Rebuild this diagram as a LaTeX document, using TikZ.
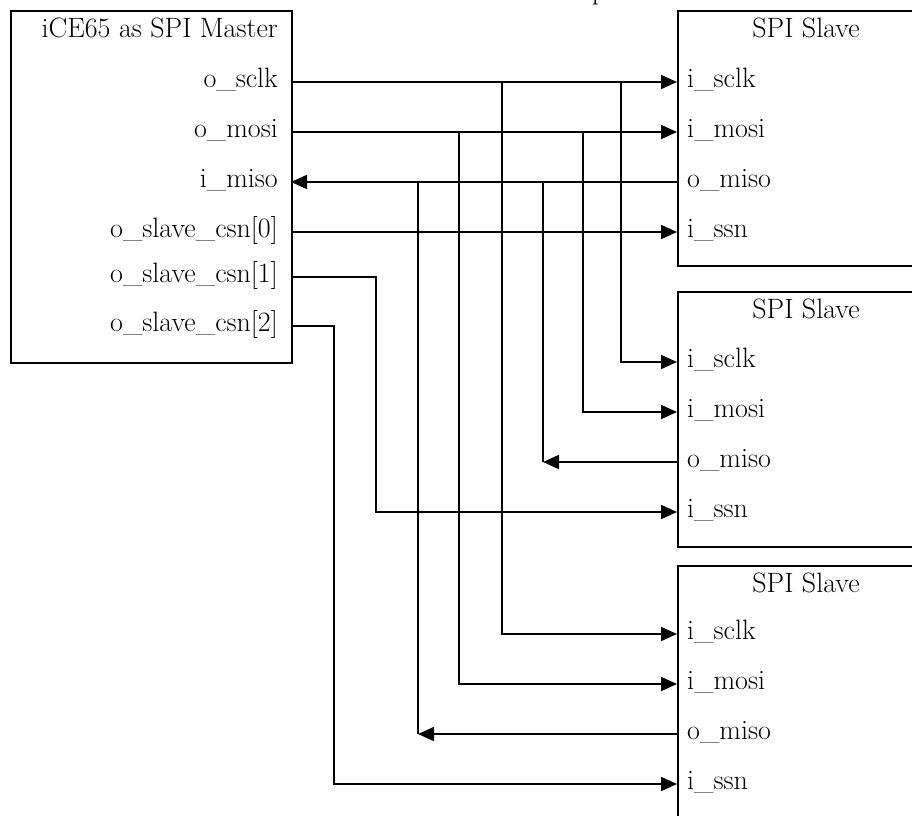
\documentclass[tikz,border=0pt]{standalone}
\usetikzlibrary{arrows.meta}
\begin{document}
\begin{tikzpicture}[x=1pt,y=-1pt,
  box/.style={draw,line width=1.6pt,rectangle,anchor=north west,inner sep=0pt},
  lbl/.style={font=\fontsize{28}{32}\selectfont,inner sep=0pt},
  wire/.style={line width=1.8pt},
  sig/.style={wire,-{Triangle[length=16pt,width=14pt]}}]
\useasboundingbox (0,0) rectangle (912,815);

% partial heading above the frame
\node[lbl,anchor=base] (head) at (599,-1) {p};

% blocks
\node[box,minimum width=281pt,minimum height=352pt] (master) at (10,10) {};
\node[box,minimum width=258pt,minimum height=255pt] (slA) at (677,10) {};
\node[box,minimum width=258pt,minimum height=255pt] (slB) at (677,291) {};
\node[box,minimum width=258pt,minimum height=255pt] (slC) at (677,565) {};

% block titles
\node[lbl,anchor=base east] (mtitle) at (278,37) {iCE65 as SPI Master};
\node[lbl,anchor=base] (tA) at (806,37) {SPI Slave};
\node[lbl,anchor=base] (tB) at (806,318) {SPI Slave};
\node[lbl,anchor=base] (tC) at (806,592) {SPI Slave};

% master ports
\node[lbl,anchor=base east] (l-sclk) at (278,87) {o\_sclk};
\node[lbl,anchor=base east] (l-mosi) at (278,137) {o\_mosi};
\node[lbl,anchor=base east] (l-miso) at (278,187) {i\_miso};
\node[lbl,anchor=base east] (l-cs0) at (278,237) {o\_slave\_csn[0]};
\node[lbl,anchor=base east] (l-cs1) at (278,282) {o\_slave\_csn[1]};
\node[lbl,anchor=base east] (l-cs2) at (278,331) {o\_slave\_csn[2]};
\coordinate (m-sclk) at (291,82);
\coordinate (m-mosi) at (291,132);
\coordinate (m-miso) at (291,182);
\coordinate (m-cs0) at (291,232);
\coordinate (m-cs1) at (291,277);
\coordinate (m-cs2) at (291,326);

% slave ports
\foreach \s/\y in {A/82,B/362,C/634}{
  \node[lbl,anchor=base west] (\s-lsclk) at (687,\y+5) {i\_sclk};
  \node[lbl,anchor=base west] (\s-lmosi) at (687,\y+55) {i\_mosi};
  \node[lbl,anchor=base west] (\s-lmiso) at (687,\y+105) {o\_miso};
  \node[lbl,anchor=base west] (\s-lssn) at (687,\y+155) {i\_ssn};
  \coordinate (\s-sclk) at (677,\y);
  \coordinate (\s-mosi) at (677,\y+50);
  \coordinate (\s-miso) at (677,\y+100);
  \coordinate (\s-ssn) at (677,\y+150);
}

% branch points on the shared bus
\coordinate (jB-sclk) at (621,82);
\coordinate (jC-sclk) at (502,82);
\coordinate (jB-mosi) at (583,132);
\coordinate (jC-mosi) at (459,132);
\coordinate (jB-miso) at (543,182);
\coordinate (jC-miso) at (418,182);
\coordinate (kB-cs) at (376,277);
\coordinate (kC-cs) at (334,326);

% clock
\draw[sig] (m-sclk) -- (A-sclk);
\draw[sig] (jB-sclk) |- (B-sclk);
\draw[sig] (jC-sclk) |- (C-sclk);
% master out, slave in
\draw[sig] (m-mosi) -- (A-mosi);
\draw[sig] (jB-mosi) |- (B-mosi);
\draw[sig] (jC-mosi) |- (C-mosi);
% master in, slave out
\draw[sig] (A-miso) -- (m-miso);
\draw[sig] (B-miso) -- (jB-miso |- B-miso);
\draw[wire] (jB-miso) -- (jB-miso |- B-miso);
\draw[sig] (C-miso) -- (jC-miso |- C-miso);
\draw[wire] (jC-miso) -- (jC-miso |- C-miso);
% chip selects
\draw[sig] (m-cs0) -- (A-ssn);
\draw[sig] (m-cs1) -- (kB-cs) |- (B-ssn);
\draw[sig] (m-cs2) -- (kC-cs) |- (C-ssn);
\end{tikzpicture}
\end{document}
